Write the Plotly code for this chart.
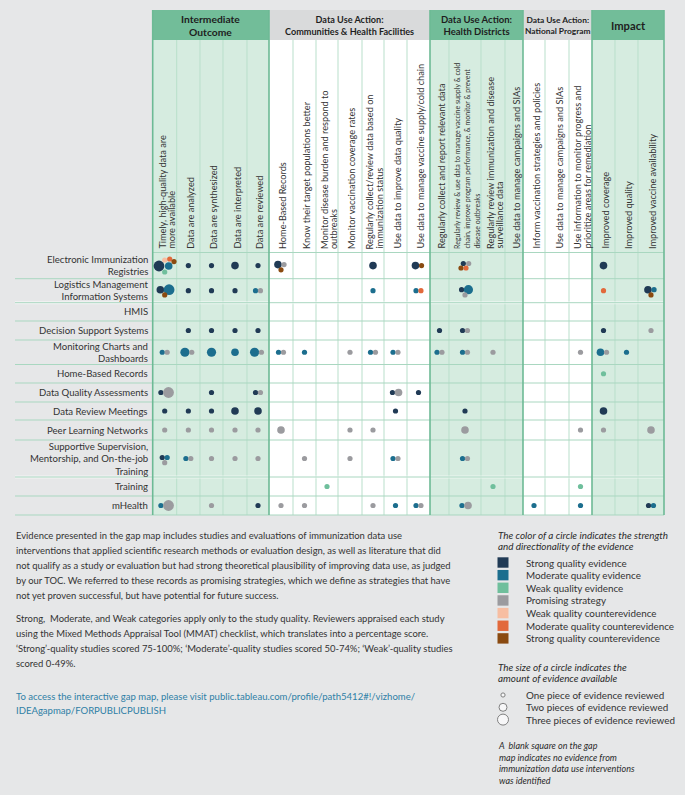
import plotly.graph_objects as go

# ---------------------------------------------------------------- data
ROW_LABELS = [
    "Electronic Immunization\nRegistries",
    "Logistics Management\nInformation Systems",
    "HMIS",
    "Decision Support Systems",
    "Monitoring Charts and\nDashboards",
    "Home-Based Records",
    "Data Quality Assessments",
    "Data Review Meetings",
    "Peer Learning Networks",
    "Supportive Supervision,\nMentorship, and On-the-job\nTraining",
    "Training",
    "mHealth",
]

GROUP_LABELS = [
    "Intermediate\nOutcome",
    "Data Use Action:\nCommunities & Health Facilities",
    "Data Use Action:\nHealth Districts",
    "Data Use Action:\nNational Program",
    "Impact",
]
GROUP_SPANS = [5, 7, 4, 3, 3]
GROUP_SHADED = [True, False, True, False, True]

COLUMN_LABELS = [
    "Timely, high-quality data are\nmore available",
    "Data are analyzed",
    "Data are synthesized",
    "Data are interpreted",
    "Data are reviewed",
    "Home-Based Records",
    "Know their target populations better",
    "Monitor disease burden and respond to\noutbreaks",
    "Monitor vaccination coverage rates",
    "Regularly collect/review data based on\nimmunization status",
    "Use data to improve data quality",
    "Use data to manage vaccine supply/cold chain",
    "Regularly collect and report relevant data",
    "Regularly review & use data to manage vaccine supply & cold\nchain, improve program performance, & monitor & prevent\ndisease outbreaks",
    "Regularly review immunization and disease\nsurveillance data",
    "Use data to manage campaigns and SIAs",
    "Inform vaccination strategies and policies",
    "Use data to manage campaigns and SIAs",
    "Use information to monitor progress and\nprioritize areas for remediation",
    "Improved coverage",
    "Improved quality",
    "Improved vaccine availability",
]

CAT_CODES = ["S", "M", "W", "P", "WC", "MC", "SC"]
CAT_LABELS = [
    "Strong quality evidence",
    "Moderate quality evidence",
    "Weak quality evidence",
    "Promising strategy",
    "Weak quality counterevidence",
    "Moderate quality counterevidence",
    "Strong quality counterevidence",
]
SIZE_LABELS = [
    "One piece of evidence reviewed",
    "Two pieces of evidence reviewed",
    "Three pieces of evidence reviewed",
]

# evidence per row: (column number 1-22, category, pieces of evidence)
ev_registries = [(1, "S", 4), (1, "M", 2), (1, "WC", 1), (1, "MC", 1), (1, "SC", 1), (1, "W", 1),
                 (2, "S", 1), (3, "S", 1), (4, "S", 2), (5, "S", 1),
                 (6, "S", 2), (6, "P", 1), (6, "SC", 1), (10, "S", 2),
                 (12, "S", 2), (12, "SC", 1),
                 (14, "S", 1), (14, "P", 1), (14, "SC", 1), (14, "MC", 1), (20, "S", 2)]
ev_logistics = [(1, "S", 2), (1, "M", 4), (1, "SC", 1),
                (2, "S", 1), (3, "S", 1), (4, "S", 1), (5, "M", 1), (5, "P", 1),
                (10, "M", 1), (12, "M", 1), (12, "MC", 1),
                (14, "S", 1), (14, "M", 3), (14, "P", 1), (20, "MC", 1),
                (22, "S", 2), (22, "M", 1), (22, "SC", 1)]
ev_hmis = []
ev_decision = [(2, "S", 1), (3, "S", 1), (4, "S", 1), (5, "S", 1), (13, "S", 1),
               (14, "S", 1), (14, "P", 1), (20, "S", 1), (22, "P", 1)]
ev_monitoring = [(1, "M", 1), (1, "P", 1), (2, "M", 3), (2, "P", 1), (3, "M", 3), (4, "M", 2),
                 (5, "M", 3), (5, "P", 1), (6, "M", 1), (6, "P", 1), (7, "M", 1), (9, "P", 1),
                 (10, "M", 1), (10, "P", 1), (11, "M", 1), (11, "P", 1), (13, "M", 1), (13, "P", 1),
                 (14, "M", 1), (14, "P", 1), (15, "P", 1), (19, "P", 1),
                 (20, "M", 2), (20, "P", 1), (21, "M", 1)]
ev_home_records = [(20, "W", 1)]
ev_dqa = [(1, "S", 1), (1, "P", 4), (3, "S", 1), (5, "S", 1), (5, "P", 1),
          (11, "S", 1), (11, "P", 2), (12, "S", 1)]
ev_review_meetings = [(1, "S", 1), (2, "S", 1), (3, "S", 1), (4, "S", 2), (5, "S", 2),
                      (11, "S", 1), (14, "S", 1), (20, "S", 2)]
ev_peer = [(1, "P", 1), (2, "P", 1), (3, "P", 1), (4, "P", 1), (5, "P", 1), (6, "P", 2),
           (9, "P", 1), (10, "P", 1), (14, "P", 2), (19, "P", 1), (20, "P", 1), (22, "P", 2)]
ev_supervision = [(1, "S", 1), (1, "M", 1), (1, "P", 1), (2, "M", 1), (2, "P", 1),
                  (3, "P", 1), (4, "P", 1), (5, "P", 1), (7, "P", 1), (9, "P", 1),
                  (11, "M", 1), (11, "P", 1), (14, "M", 1), (14, "P", 1)]
ev_training = [(8, "W", 1), (15, "W", 1), (19, "W", 1)]
ev_mhealth = [(1, "M", 1), (1, "P", 4), (3, "P", 1), (5, "S", 1), (6, "P", 1), (7, "P", 1),
              (10, "P", 1), (11, "M", 1), (12, "M", 1), (12, "P", 1), (14, "M", 1), (14, "P", 2),
              (17, "M", 1), (19, "M", 1), (22, "S", 1), (22, "M", 1)]

EVIDENCE = [ev_registries, ev_logistics, ev_hmis, ev_decision, ev_monitoring, ev_home_records,
            ev_dqa, ev_review_meetings, ev_peer, ev_supervision, ev_training, ev_mhealth]

PARAGRAPH_1 = [
    "Evidence presented in the gap map includes studies and evaluations of immunization data use",
    "interventions that applied scientific research methods or evaluation design, as well as literature that did",
    "not qualify as a study or evaluation but had strong theoretical plausibility of improving data use, as judged",
    "by our TOC. We referred to these records as promising strategies, which we define as strategies that have",
    "not yet proven successful, but have potential for future success.",
]
PARAGRAPH_2 = [
    "Strong,  Moderate, and Weak categories apply only to the study quality. Reviewers appraised each study",
    "using the Mixed Methods Appraisal Tool (MMAT) checklist, which translates into a percentage score.",
    "\u2018Strong\u2019-quality studies scored 75-100%; \u2018Moderate\u2019-quality studies scored 50-74%; \u2018Weak\u2019-quality studies",
    "scored 0-49%.",
]
LINK_TEXT = [
    "To access the interactive gap map, please visit public.tableau.com/profile/path5412#!/vizhome/",
    "IDEAgapmap/FORPUBLICPUBLISH",
]
COLOR_TITLE = ["The color of a circle indicates the strength", "and directionality of the evidence"]
SIZE_TITLE = ["The size of a circle indicates the", "amount of evidence available"]
BLANK_NOTE = ["A  blank square on the gap", "map indicates no evidence from",
              "immunization data use interventions", "was identified"]

# ---------------------------------------------------------------- style / layout
FONT = "Lato, 'Open Sans', sans-serif"
TXT = "#333333"
BG = "#e6e7e8"
CAT_COLORS = {"S": "#203a55", "M": "#1c6e8e", "W": "#6fbf9c", "P": "#9b9b9f",
              "WC": "#f7bea2", "MC": "#e2693b", "SC": "#8a4a10"}
DIAM = {1: 5.2, 2: 7.6, 3: 9.2, 4: 10.8}

X_GRID0 = 152.7
COL_WIDTHS = [24, 23.3, 23, 24, 22, 24, 23, 22, 24, 22, 23, 23, 19, 32, 24, 18, 22, 24, 23, 23, 23, 26]
Y_HEAD0, Y_HEAD1, Y_GRID0 = 10, 40, 252.5
ROW_HEIGHTS = [26.2, 24, 18.3, 19, 24.5, 18.5, 19, 18, 20, 37, 19, 19]
X_LABEL0 = 15
GROUP_FONT = [10.3, 9.1, 9.5, 8.4, 11.2]
COLUMN_FONT = [9.2] * 13 + [7.0] + [9.2] * 8
ROW_FONT = 9.6
LEGEND_FS = 9.85

col_edges = [X_GRID0]
for w in COL_WIDTHS:
    col_edges.append(col_edges[-1] + w)
row_edges = [Y_GRID0]
for h in ROW_HEIGHTS:
    row_edges.append(row_edges[-1] + h)
col_centers = [(a + b) / 2 for a, b in zip(col_edges[:-1], col_edges[1:])]
row_centers = [(a + b) / 2 for a, b in zip(row_edges[:-1], row_edges[1:])]
X_END = col_edges[-1]
Y_END = row_edges[-1]

group_edges = [0]
for s in GROUP_SPANS:
    group_edges.append(group_edges[-1] + s)

shapes = []
annotations = []


def esc(s):
    return s.replace("&", "&amp;")


def rect(x0, y0, x1, y1, fill, line_color=None, lw=0):
    shapes.append(dict(type="rect", xref="x", yref="y", x0=x0, y0=y0, x1=x1, y1=y1,
                       fillcolor=fill, line=dict(color=line_color or fill, width=lw), layer="below"))


def line(x0, y0, x1, y1, color, width=1):
    shapes.append(dict(type="line", xref="x", yref="y", x0=x0, y0=y0, x1=x1, y1=y1,
                       line=dict(color=color, width=width), layer="below"))


def text(t, x, y, size, color=TXT, xanchor="left", yanchor="middle", angle=0, align="left"):
    annotations.append(dict(x=x, y=y, xref="x", yref="y", text=esc(t), showarrow=False,
                            xanchor=xanchor, yanchor=yanchor, textangle=angle, align=align,
                            borderpad=0, font=dict(family=FONT, size=size, color=color)))


# group backgrounds and header band
for g, lab in enumerate(GROUP_LABELS):
    x0 = col_edges[group_edges[g]]
    x1 = col_edges[group_edges[g + 1]]
    shaded = GROUP_SHADED[g]
    rect(x0, Y_HEAD0, x1, Y_HEAD1, "#72bd99" if shaded else "#d9dadb")
    rect(x0, Y_HEAD1, x1, Y_END, "#d6ece0" if shaded else "#ffffff")
    head = "<br>".join("<b>" + ln + "</b>" for ln in lab.split("\n"))
    text(head, (x0 + x1) / 2, (Y_HEAD0 + Y_HEAD1) / 2 + 0.8, GROUP_FONT[g],
         color="#1e1e1e", xanchor="center", align="center")

# thin column lines
boundaries = set(group_edges)
for j, xe in enumerate(col_edges):
    if j not in boundaries:
        line(xe, Y_HEAD1, xe, Y_END, "#b9dfcb", 1)

# row lines
for i, ye in enumerate(row_edges):
    x_start = X_GRID0 if i == 0 else X_LABEL0
    if i in (2, 10):
        line(x_start, ye, X_END, ye, "rgba(255,255,255,0.55)", 3)
    line(x_start, ye, X_END, ye, "#a9d7c0", 1)

# group boundary lines
for j in group_edges:
    line(col_edges[j], Y_HEAD0, col_edges[j], Y_END, "#6dba95", 1.6)

# column labels (rotated)
for c, lab in enumerate(COLUMN_LABELS):
    lines = lab.split("\n")
    n = len(lines)
    sp = 9.6 if c == 13 else 9.2
    for i, ln in enumerate(lines):
        text(ln, col_centers[c] + 1.5 + (i - (n - 1) / 2) * sp, 250, COLUMN_FONT[c],
             xanchor="center", yanchor="bottom", angle=-90)

# row labels (one wrapped text per row)
for r, lab in enumerate(ROW_LABELS):
    text(lab.replace("\n", "<br>"), 148.5, row_centers[r], ROW_FONT, xanchor="right", align="right")

# ---------------------------------------------------------------- evidence circles
PATTERN_4 = [(-1.7, -2.1), (3.7, -2.1), (-4.0, 2.4), (1.0, 2.4)]
PATTERN_6 = [(-5.7, 0.4), (4.0, 0.4), (0.0, -5.6), (5.0, -6.6), (9.3, -4.0), (0.0, 6.4)]


def cell_offsets(items):
    n = len(items)
    d = [DIAM[k] for _, k in items]
    if n == 1:
        return [(0.0, 0.0)]
    if n == 4:
        return PATTERN_4
    if n == 6:
        return PATTERN_6
    gap = (d[0] + d[1]) / 2 * 0.95
    pair = [(-gap / 2, 0.0), (gap / 2, 0.0)]
    if n == 2:
        return pair
    return [(-gap / 2, -1.0), (gap / 2, -1.0), (0.0, 4.2)]


xs, ys, cols, sizes = [], [], [], []
for r, rec in enumerate(EVIDENCE):
    cells = {}
    for col, cat, k in rec:
        cells.setdefault(col, []).append((cat, k))
    for col, items in cells.items():
        offs = cell_offsets(items)
        for (cat, k), (dx, dy) in zip(items, offs):
            xs.append(col_centers[col - 1] + dx)
            ys.append(row_centers[r] + dy)
            cols.append(CAT_COLORS[cat])
            sizes.append(DIAM[k])

fig = go.Figure()
fig.add_trace(go.Scatter(x=xs, y=ys, mode="markers", hoverinfo="skip",
                         marker=dict(color=cols, size=sizes, line=dict(width=0), opacity=1)))

# ---------------------------------------------------------------- notes text
BODY_FS = 9.45
for i, ln in enumerate(PARAGRAPH_1):
    text(ln, X_LABEL0, 535.7 + i * 14.9, BODY_FS)
for i, ln in enumerate(PARAGRAPH_2):
    text(ln, X_LABEL0, 618.3 + i * 14.9, BODY_FS)
for i, ln in enumerate(LINK_TEXT):
    text(ln, X_LABEL0, 696 + i * 14.4, 9.55, color="#2f7fa6")

# ---------------------------------------------------------------- legend
LX = 497
TITLE_FS = 9.9
for i, ln in enumerate(COLOR_TITLE):
    text("<i>" + ln + "</i>", LX, 534.8 + i * 11.2, TITLE_FS, color="#2b2b2b")
for i, (code, lab) in enumerate(zip(CAT_CODES, CAT_LABELS)):
    yc = 562.5 + i * 12.65
    rect(LX + 0.5, yc - 5.2, LX + 11.5, yc + 5.2, CAT_COLORS[code])
    text(lab, 525, yc, LEGEND_FS)
for i, ln in enumerate(SIZE_TITLE):
    text("<i>" + ln + "</i>", LX, 667.0 + i * 11.2, TITLE_FS, color="#2b2b2b")
legend_sizes = [4.2, 8.0, 11.0]
leg_y = [695 + i * 12.3 for i in range(len(SIZE_LABELS))]
fig.add_trace(go.Scatter(x=[503] * len(SIZE_LABELS), y=leg_y, mode="markers", hoverinfo="skip",
                         marker=dict(color="white", size=legend_sizes,
                                     line=dict(color="#555555", width=1))))
for i, lab in enumerate(SIZE_LABELS):
    text(lab, 525, leg_y[i], LEGEND_FS)
text("<i>" + "<br>".join(BLANK_NOTE) + "</i>", LX, 739, 9.0, color="#2b2b2b", yanchor="top")

fig.update_layout(
    width=685, height=795, autosize=False,
    margin=dict(l=0, r=0, t=0, b=0),
    paper_bgcolor=BG, plot_bgcolor=BG,
    showlegend=False,
    xaxis=dict(range=[0, 685], visible=False, fixedrange=True),
    yaxis=dict(range=[795, 0], visible=False, fixedrange=True),
    shapes=shapes, annotations=annotations,
    font=dict(family=FONT, color=TXT),
)

fig.write_html("out.html", config={"displayModeBar": False},
               post_script="document.body.style.margin='0';")
